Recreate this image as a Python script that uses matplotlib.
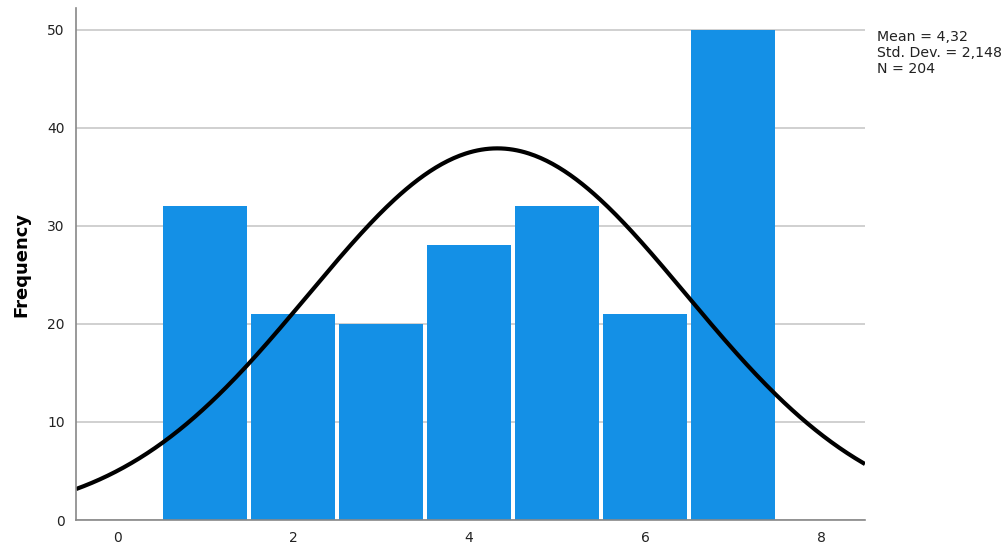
import numpy as np
import matplotlib
matplotlib.use("Agg")
import matplotlib.pyplot as plt

categories = [1, 2, 3, 4, 5, 6, 7]
frequencies = [32, 21, 20, 28, 32, 21, 50]
mean_val = 4.32
sd_val = 2.148
n_val = 204
x_ticks = [0, 2, 4, 6, 8]
y_ticks = [0, 10, 20, 30, 40, 50]

plt.rcParams['font.family'] = ['DejaVu Sans']
fig = plt.figure(figsize=(10.08, 5.44), dpi=100)
ax = fig.add_axes([76/1008, 1-520/544, (865-76)/1008, (520-8)/544])

ax.set_axisbelow(True)
ax.yaxis.grid(True, color='#c8c8c8', linewidth=1.2)
ax.bar(categories, frequencies, width=0.955, color='#1490e6', linewidth=0, zorder=2)

xs = np.linspace(-0.47, 8.5, 400)
ys = n_val * 1.0 / (sd_val * np.sqrt(2*np.pi)) * np.exp(-0.5*((xs-mean_val)/sd_val)**2)
ax.plot(xs, ys, color='black', linewidth=3, zorder=3, solid_capstyle='butt')

ax.set_xlim(-0.47, 8.5)
ax.set_ylim(0, 52.2)
ax.set_xticks(x_ticks)
ax.set_yticks(y_ticks)
ax.tick_params(length=0, labelsize=10, colors='#222222', pad=8)
for s in ['top', 'right']:
    ax.spines[s].set_visible(False)
for s in ['left', 'bottom']:
    ax.spines[s].set_color('#888888')
    ax.spines[s].set_linewidth(1.2)
    ax.spines[s].set_zorder(4)
ax.set_ylabel('Frequency', fontsize=13, fontweight='bold', labelpad=12)

fig.text(877/1008, 1-53/544, f"Mean = {str(mean_val).replace('.', ',')}\nStd. Dev. = {str(sd_val).replace('.', ',')}\nN = {n_val}",
         fontsize=10.2, va='center', ha='left', linespacing=1.15, color='#222222')

fig.savefig('out.png', dpi=100)
